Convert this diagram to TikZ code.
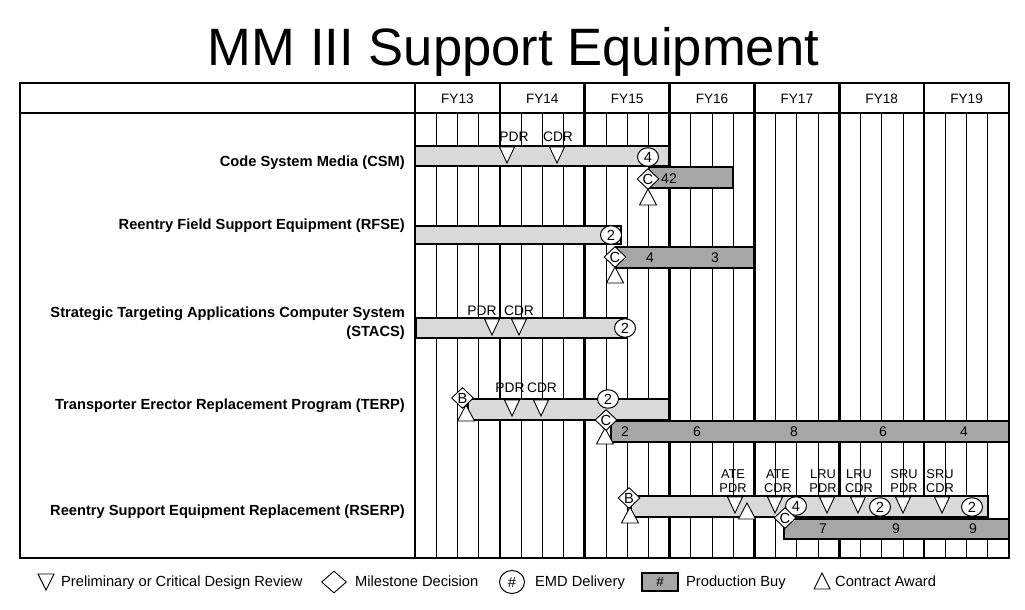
\documentclass[tikz,border=0pt]{standalone}
\usepackage{fontspec}
\setmainfont{Liberation Sans}
\usetikzlibrary{shapes.geometric}
\definecolor{lightg}{RGB}{217,217,217}
\definecolor{darkg}{RGB}{166,166,166}
\begin{document}
\begin{tikzpicture}[x=1pt,y=-1pt,
  frame/.style={line width=2.8pt},
  yearline/.style={line width=2.6pt},
  qline/.style={line width=0.8pt},
  lbar/.style={draw, line width=2.6pt, fill=lightg},
  dbar/.style={draw, line width=2.6pt, fill=darkg},
  mk/.style={draw, fill=white, line width=0.9pt},
  emd/.style={ellipse, draw, fill=white, line width=1pt, minimum width=21pt, minimum height=18.5pt, inner sep=0pt, font=\fontsize{14.67}{15}\selectfont},
  dia/.style={diamond, draw, fill=white, line width=0.9pt, minimum width=22pt, minimum height=21pt, inner sep=0pt, font=\fontsize{14.67}{15}\selectfont},
  prog/.style={anchor=base east, inner sep=0pt, font=\bfseries\fontsize{14.67}{16}\selectfont},
  yr/.style={inner sep=0pt, font=\fontsize{13.6}{14}\selectfont},
  rv/.style={inner sep=0pt, font=\fontsize{13.8}{14}\selectfont},
  rl/.style={inner sep=0pt, align=center, font=\fontsize{12.8}{14}\selectfont},
  num/.style={inner sep=0pt, font=\fontsize{14}{15}\selectfont},
  leg/.style={anchor=base west, inner sep=0pt, font=\fontsize{14.67}{16}\selectfont},
  dtri/.pic={\path[mk] (-7.5,0) -- (7.5,0) -- (0,16) -- cycle;},
  utri/.pic={\path[mk] (0,0) -- (8.5,16) -- (-8.5,16) -- cycle;}
]
\useasboundingbox (0,0) rectangle (1025,610);
\fill[white] (0,0) rectangle (1025,610);

% title
\node[anchor=base, inner sep=0pt, font=\fontsize{52.6}{60}\selectfont] (title) at (513.5,66) {MM III Support Equipment};

% grid
\foreach \k in {0,...,6}{
  \foreach \q in {1,2,3}{
    \draw[qline] ({415+84.857*\k+21.214*\q},113) -- ({415+84.857*\k+21.214*\q},558);
  }
}
\foreach \k in {1,...,6}{
  \draw[yearline] ({415+84.857*\k},83) -- ({415+84.857*\k},558);
}
\draw[frame] (20,83) rectangle (1009,558);
\draw[frame] (20,113) -- (1009,113);
\draw[frame] (415,83) -- (415,558);

% years
\foreach \y [count=\i from 0] in {FY13,FY14,FY15,FY16,FY17,FY18,FY19}{
  \node[yr, anchor=base] (yr\i) at ({415+84.857*(\i+0.5)},103) {\y};
}

% program labels
\node[prog] (lcsm) at (405,166) {Code System Media (CSM)};
\node[prog] (lrfse) at (405,229) {Reentry Field Support Equipment (RFSE)};
\node[prog] (lstacsa) at (405,317) {Strategic Targeting Applications Computer System};
\node[prog] (lstacsb) at (405,336) {(STACS)};
\node[prog] (lterp) at (405,409) {Transporter Erector Replacement Program (TERP)};
\node[prog] (lrserp) at (405,515) {Reentry Support Equipment Replacement (RSERP)};

% ---------- CSM
\draw[lbar] (415,146) rectangle (669,166);
\draw[dbar] (649,167) rectangle (733,188);
\pic at (507,147) {dtri};
\pic at (557,147) {dtri};
\node[rv] (csmp) at (514,137) {PDR};
\node[rv] (csmc) at (558,137) {CDR};
\node[emd] (csm4) at (648,157) {4};
\pic at (648,189) {utri};
\node[dia] (csmC) at (648,179) {C};
\node[num] (csm42) at (669,179) {42};

% ---------- RFSE
\draw[lbar] (415,226) rectangle (621,244);
\draw[dbar] (616,247) rectangle (754,268);
\node[emd] (rf2) at (611,235) {2};
\pic at (615,267) {utri};
\node[dia] (rfC) at (615,257) {C};
\node[num] (rf4) at (650,258) {4};
\node[num] (rf3) at (715,258) {3};

% ---------- STACS
\draw[lbar] (416,318) rectangle (627,338);
\pic at (492,319) {dtri};
\pic at (519,319) {dtri};
\node[rv] (stp) at (482,311) {PDR};
\node[rv] (stc) at (519,311) {CDR};
\node[emd] (st2) at (625,328) {2};

% ---------- TERP
\draw[lbar] (468,399) rectangle (669,420);
\draw[dbar] (611,421) rectangle (1009,442);
\pic at (466,405) {utri};
\node[dia] (teB) at (462.5,398) {B};
\pic at (512,400) {dtri};
\pic at (541,400) {dtri};
\node[rv] (tep) at (510,388) {PDR};
\node[rv] (tec) at (542,388) {CDR};
\node[emd] (te2) at (608,399) {2};
\pic at (605,428) {utri};
\node[dia] (teC) at (606,420) {C};
\node[num] (ten1) at (625,432) {2};
\node[num] (ten2) at (697,432) {6};
\node[num] (ten3) at (794,432) {8};
\node[num] (ten4) at (883,432) {6};
\node[num] (ten5) at (964,432) {4};

% ---------- RSERP
\draw[lbar] (631,496) rectangle (988,517);
\draw[dbar] (784,519) rectangle (1009,539);
\pic at (630,507) {utri};
\node[dia] (rsB) at (629,498) {B};
\foreach \x in {735,775,827,858,903,942}{ \pic at (\x,497) {dtri}; }
\node[rl] (rs1) at (733,481) {ATE\\PDR};
\node[rl] (rs2) at (778,481) {ATE\\CDR};
\node[rl] (rs3) at (823,481) {LRU\\PDR};
\node[rl] (rs4) at (859,481) {LRU\\CDR};
\node[rl] (rs5) at (904,481) {SRU\\PDR};
\node[rl] (rs6) at (940,481) {SRU\\CDR};
\pic at (747,503) {utri};
\node[emd] (rs4c) at (796,506) {4};
\node[emd] (rs2a) at (880,507) {2};
\node[emd] (rs2b) at (972,507) {2};
\node[dia] (rsC) at (785,518) {C};
\node[num] (rsn1) at (823,529) {7};
\node[num] (rsn2) at (896,529) {9};
\node[num] (rsn3) at (973,529) {9};

% ---------- legend
\path[mk] (38,574) -- (54,574) -- (46,590) -- cycle;
\node[leg] (lg1) at (61,586) {Preliminary or Critical Design Review};
\node[dia, minimum width=25pt, minimum height=22pt] (lgd) at (334,582) {};
\node[leg] (lg2) at (355,586) {Milestone Decision};
\node[emd, minimum width=25pt, minimum height=23pt] (lgc) at (512,582) {\#};
\node[leg] (lg3) at (535,586) {EMD Delivery};
\node[draw, line width=2.2pt, fill=darkg, minimum width=36pt, minimum height=18pt, inner sep=0pt, font=\fontsize{13.3}{14}\selectfont] (lgb) at (660,582) {\#};
\node[leg] (lg4) at (686,586) {Production Buy};
\path[mk] (822,573) -- (830,589) -- (814,589) -- cycle;
\node[leg] (lg5) at (835,586) {Contract Award};
\end{tikzpicture}
\end{document}
